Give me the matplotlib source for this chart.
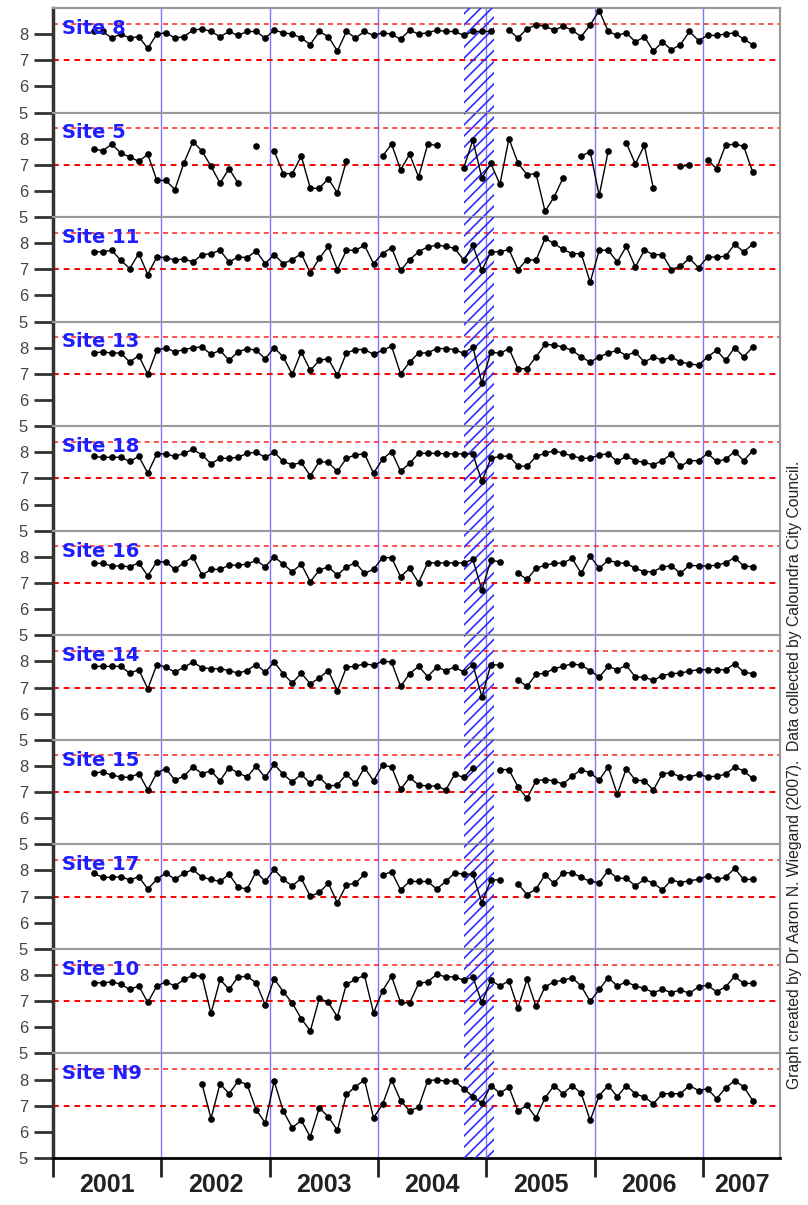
import numpy as np
import matplotlib.pyplot as plt

nan = np.nan

# monthly sampling, May 2001 .. Jun 2007 (74 months)
month_index = np.arange(74)
years = [2001, 2002, 2003, 2004, 2005, 2006, 2007]

site_names = ["Site 8", "Site 5", "Site 11", "Site 13", "Site 18", "Site 16",
              "Site 14", "Site 15", "Site 17", "Site 10", "Site N9"]

ph_site8 = [8.1, 8.1, 7.85, 8.0, 7.85, 7.9, 7.45, 8.0, 8.05, 7.85,
            7.9, 8.15, 8.2, 8.1, 7.9, 8.1, 7.95, 8.1, 8.1, 7.85,
            8.15, 8.05, 8.0, 7.85, 7.6, 8.1, 7.9, 7.35, 8.1, 7.85,
            8.1, 7.95, 8.05, 8.0, 7.8, 8.15, 8.0, 8.05, 8.15, 8.1,
            8.1, 7.95, 8.1, 8.1, 8.1, nan, 8.15, 7.85, 8.2, 8.35,
            8.3, 8.15, 8.3, 8.15, 7.9, 8.35, 8.9, 8.1, 7.95, 8.05,
            7.7, 7.9, 7.35, 7.7, 7.4, 7.6, 8.1, 7.75, 7.95, 7.95,
            8.0, 8.05, 7.8, 7.6]
ph_site5 = [7.62, 7.53, 7.79, 7.45, 7.3, 7.13, 7.4, 6.4, 6.4, 6.05,
            7.07, 7.88, 7.53, 6.94, 6.3, 6.85, 6.3, nan, 7.72, nan,
            7.53, 6.66, 6.66, 7.33, 6.1, 6.1, 6.47, 5.92, 7.15, nan,
            nan, nan, 7.33, 7.79, 6.81, 7.4, 6.53, 7.79, 7.74, nan,
            nan, 6.89, 7.94, 6.5, 7.05, 6.25, 8.0, 7.07, 6.62, 6.66,
            5.22, 5.76, 6.5, nan, 7.33, 7.5, 5.83, 7.53, nan, 7.84,
            7.03, 7.74, 6.1, nan, nan, 6.94, 6.98, nan, 7.2, 6.85,
            7.75, 7.79, 7.71, 6.72]
ph_site11 = [7.67, 7.67, 7.73, 7.35, 7.03, 7.6, 6.8, 7.47, 7.45, 7.35,
             7.4, 7.28, 7.56, 7.6, 7.73, 7.28, 7.47, 7.45, 7.7, 7.22,
             7.56, 7.22, 7.37, 7.6, 6.86, 7.42, 7.88, 6.99, 7.73, 7.73,
             7.92, 7.22, 7.6, 7.83, 6.96, 7.37, 7.67, 7.86, 7.92, 7.88,
             7.8, 7.35, 7.92, 6.96, 7.67, 7.67, 7.76, 6.99, 7.37, 7.35,
             8.18, 7.99, 7.76, 7.6, 7.6, 6.51, 7.73, 7.73, 7.28, 7.88,
             7.09, 7.73, 7.56, 7.56, 6.99, 7.12, 7.42, 7.06, 7.47, 7.47,
             7.5, 7.96, 7.67, 7.96]
ph_site13 = [7.8, 7.84, 7.8, 7.8, 7.45, 7.7, 6.98, 7.9, 8.0, 7.84,
             7.93, 8.0, 8.03, 7.75, 7.9, 7.52, 7.84, 7.97, 7.9, 7.58,
             8.0, 7.65, 6.98, 7.84, 7.13, 7.52, 7.58, 6.94, 7.8, 7.93,
             7.93, 7.75, 7.9, 8.06, 7.0, 7.45, 7.8, 7.8, 7.97, 7.97,
             7.93, 7.78, 8.03, 6.65, 7.84, 7.78, 7.97, 7.2, 7.2, 7.65,
             8.13, 8.1, 8.03, 7.9, 7.65, 7.45, 7.65, 7.8, 7.9, 7.7,
             7.84, 7.45, 7.65, 7.52, 7.65, 7.45, 7.39, 7.33, 7.65, 7.9,
             7.52, 8.0, 7.65, 8.03]
ph_site18 = [7.84, 7.81, 7.81, 7.81, 7.65, 7.84, 7.2, 7.94, 7.94, 7.84,
             7.96, 8.11, 7.9, 7.56, 7.77, 7.77, 7.81, 7.96, 8.0, 7.81,
             8.0, 7.65, 7.52, 7.61, 7.1, 7.65, 7.61, 7.27, 7.77, 7.9,
             7.94, 7.2, 7.73, 8.03, 7.27, 7.58, 7.96, 7.96, 7.96, 7.94,
             7.94, 7.94, 7.94, 6.89, 7.77, 7.84, 7.86, 7.48, 7.46, 7.84,
             7.96, 8.06, 7.96, 7.86, 7.77, 7.77, 7.9, 7.94, 7.65, 7.84,
             7.68, 7.61, 7.52, 7.68, 7.94, 7.46, 7.68, 7.68, 7.96, 7.65,
             7.73, 8.03, 7.68, 8.06]
ph_site16 = [7.75, 7.75, 7.65, 7.65, 7.62, 7.77, 7.27, 7.81, 7.81, 7.52,
             7.77, 8.0, 7.3, 7.52, 7.52, 7.68, 7.68, 7.72, 7.87, 7.62,
             8.0, 7.72, 7.43, 7.72, 7.05, 7.49, 7.62, 7.3, 7.62, 7.77,
             7.37, 7.52, 7.97, 7.97, 7.24, 7.56, 7.01, 7.77, 7.77, 7.77,
             7.77, 7.77, 7.9, 6.73, 7.87, 7.81, nan, 7.37, 7.14, 7.56,
             7.68, 7.75, 7.77, 7.94, 7.37, 8.03, 7.56, 7.87, 7.77, 7.75,
             7.56, 7.43, 7.43, 7.62, 7.65, 7.37, 7.68, 7.65, 7.65, 7.68,
             7.77, 7.97, 7.65, 7.62]
ph_site14 = [7.81, 7.81, 7.81, 7.81, 7.55, 7.68, 6.95, 7.88, 7.78, 7.59,
             7.78, 7.97, 7.76, 7.72, 7.72, 7.65, 7.55, 7.65, 7.88, 7.59,
             7.97, 7.53, 7.17, 7.55, 7.14, 7.37, 7.65, 6.88, 7.78, 7.81,
             7.91, 7.85, 8.01, 7.97, 7.04, 7.53, 7.81, 7.42, 7.78, 7.65,
             7.78, 7.59, 7.88, 6.65, 7.88, 7.85, nan, 7.29, 7.04, 7.5,
             7.55, 7.72, 7.81, 7.91, 7.85, 7.65, 7.4, 7.81, 7.68, 7.85,
             7.4, 7.4, 7.27, 7.46, 7.53, 7.55, 7.63, 7.68, 7.68, 7.68,
             7.68, 7.91, 7.59, 7.53]
ph_site15 = [7.73, 7.77, 7.65, 7.58, 7.56, 7.71, 7.08, 7.73, 7.9, 7.46,
             7.61, 7.96, 7.71, 7.81, 7.43, 7.94, 7.73, 7.58, 7.99, 7.56,
             8.06, 7.68, 7.39, 7.68, 7.33, 7.56, 7.23, 7.27, 7.68, 7.33,
             7.94, 7.43, 8.03, 7.96, 7.1, 7.56, 7.27, 7.23, 7.23, 7.08,
             7.68, 7.56, 7.94, nan, nan, 7.86, 7.86, 7.2, 6.76, 7.43,
             7.48, 7.43, 7.3, 7.61, 7.86, 7.73, 7.46, 7.96, 6.92, 7.9,
             7.46, 7.43, 7.08, 7.71, 7.73, 7.58, 7.58, 7.68, 7.58, 7.61,
             7.68, 7.96, 7.81, 7.52]
ph_site17 = [7.89, 7.74, 7.74, 7.76, 7.64, 7.76, 7.29, 7.66, 7.91, 7.66,
             7.89, 8.04, 7.74, 7.66, 7.58, 7.86, 7.36, 7.29, 7.95, 7.58,
             8.04, 7.66, 7.41, 7.7, 7.01, 7.16, 7.51, 6.76, 7.45, 7.51,
             7.86, nan, 7.83, 7.95, 7.26, 7.58, 7.58, 7.58, 7.29, 7.58,
             7.91, 7.86, 7.86, 6.76, 7.64, 7.64, nan, 7.49, 7.08, 7.29,
             7.83, 7.51, 7.91, 7.91, 7.74, 7.58, 7.54, 7.99, 7.7, 7.7,
             7.41, 7.66, 7.51, 7.26, 7.64, 7.54, 7.61, 7.66, 7.79, 7.66,
             7.74, 8.08, 7.66, 7.66]
ph_site10 = [7.7, 7.7, 7.74, 7.65, 7.45, 7.58, 6.95, 7.58, 7.74, 7.58,
             7.83, 7.99, 7.95, 6.53, 7.83, 7.45, 7.93, 7.95, 7.7, 6.86,
             7.86, 7.36, 6.93, 6.33, 5.86, 7.11, 6.95, 6.4, 7.65, 7.83,
             7.99, 6.55, 7.4, 7.95, 6.95, 6.93, 7.68, 7.74, 8.03, 7.93,
             7.93, 7.8, 7.93, 6.95, 7.8, 7.58, 7.78, 6.74, 7.83, 6.8,
             7.55, 7.74, 7.8, 7.9, 7.58, 6.99, 7.45, 7.9, 7.58, 7.74,
             7.58, 7.49, 7.33, 7.45, 7.33, 7.43, 7.3, 7.55, 7.61, 7.36,
             7.55, 7.95, 7.68, 7.68]
ph_siteN9 = [nan, nan, nan, nan, nan, nan, nan, nan, nan, nan,
             nan, nan, 7.84, 6.51, 7.84, 7.46, 7.94, 7.81, 6.85, 6.34,
             7.94, 6.8, 6.16, 6.44, 5.81, 6.92, 6.57, 6.06, 7.43, 7.73,
             7.99, 6.54, 7.05, 7.99, 7.2, 6.8, 6.95, 7.96, 7.99, 7.94,
             7.94, 7.65, 7.35, 7.1, 7.77, 7.48, 7.71, 6.8, 7.01, 6.54,
             7.3, 7.77, 7.46, 7.77, 7.48, 6.44, 7.39, 7.77, 7.35, 7.77,
             7.46, 7.33, 7.08, 7.46, 7.46, 7.46, 7.77, 7.58, 7.65, 7.27,
             7.68, 7.96, 7.73, 7.2]

all_sites = [ph_site8, ph_site5, ph_site11, ph_site13, ph_site18, ph_site16,
             ph_site14, ph_site15, ph_site17, ph_site10, ph_siteN9]

guideline_low = 7.0
guideline_high = 8.4
event_start, event_end = 2004.79, 2005.07

x = 2001 + (month_index + 4.5) / 12.0
x_end = 2007.71

plt.rcParams['hatch.linewidth'] = 1.2
fig, axes = plt.subplots(len(site_names), 1, figsize=(8.08, 12.05), dpi=100, sharex=True)
fig.subplots_adjust(left=0.0656, right=0.9653, top=0.9934, bottom=0.039, hspace=0)

for ax, name, vals in zip(axes, site_names, all_sites):
    ax.set_xlim(2001, x_end)
    ax.set_ylim(5, 9)
    for yr in years[1:]:
        ax.axvline(yr, color='#7a7aff', lw=1.0, zorder=1)
    ax.axhline(guideline_low, color='red', lw=1.4, ls=(0, (3, 2.5)), zorder=2)
    ax.axhline(guideline_high, color='red', lw=1.2, ls=(0, (3, 2.5)), alpha=0.8, zorder=2)
    ax.axvspan(event_start, event_end, facecolor='none', edgecolor='#2e2eff',
               hatch='///', lw=0, zorder=3)
    ax.plot(x, vals, '-o', color='black', lw=1.0, ms=3.8, zorder=4)
    ax.text(2001.08, 8.22, name, color='#1e1eff', fontsize=14, fontweight='bold',
            family='DejaVu Sans', va='center', ha='left', zorder=5)

    ax.set_yticks([5, 6, 7, 8])
    ax.set_yticklabels(['5', '6', '7', '8'], family='Liberation Sans', fontsize=12, color='#444444')
    ax.tick_params(axis='y', length=14, width=2, color='#333333', pad=4)
    for side in ['top', 'bottom', 'right']:
        ax.spines[side].set_color('#999999')
        ax.spines[side].set_linewidth(1.5)
    ax.spines['left'].set_color('#333333')
    ax.spines['left'].set_linewidth(2.5)
    ax.tick_params(axis='x', which='both', bottom=False, labelbottom=False)

bottom_ax = axes[-1]
bottom_ax.spines['bottom'].set_color('black')
bottom_ax.spines['bottom'].set_linewidth(2)
bottom_ax.set_xticks(years)
bottom_ax.set_xticklabels([])
mids = [yr + 0.5 for yr in years[:-1]] + [(years[-1] + x_end) / 2]
bottom_ax.set_xticks(mids, minor=True)
bottom_ax.set_xticklabels([str(yr) for yr in years], minor=True,
                          family='Liberation Sans', fontsize=18, fontweight='bold', color='#222222')
bottom_ax.tick_params(axis='x', which='major', bottom=True, length=14, width=2, color='#222222')
bottom_ax.tick_params(axis='x', which='minor', bottom=True, labelbottom=True, length=0, pad=11)

fig.text(0.983, 0.357,
         "Graph created by Dr Aaron N. Wiegand (2007).  Data collected by Caloundra City Council.",
         rotation=90, ha='center', va='center', fontsize=11.3, family='Liberation Sans', color='#222222')

fig.savefig('out.png', dpi=100)
